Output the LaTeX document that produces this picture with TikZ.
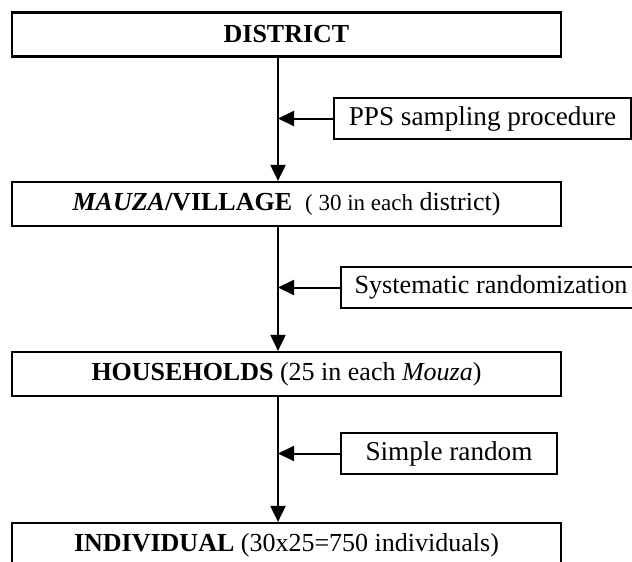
\documentclass[tikz,border=0pt]{standalone}
\usepackage{fontspec}
\setmainfont{Liberation Serif}
\usetikzlibrary{arrows.meta}

\begin{document}
\begin{tikzpicture}[x=0.5pt, y=-0.5pt,
        level/.style={draw, line width=1.1pt, minimum width=274.5pt, minimum height=22pt, inner sep=0pt, font=\fontsize{13}{15}\selectfont},
        method/.style={draw, line width=1pt, minimum height=20.5pt, inner sep=0pt, font=\fontsize{13.6}{16}\selectfont},
        flow/.style={line width=1pt, -{Triangle[length=8pt, width=7.5pt]}}]
        \useasboundingbox (0,0) rectangle (632,562);

        % Draw the sampling levels
        \node[level] (district) at (286.5,34.5) {\textbf{DISTRICT}};
        \node[level] (mauza) at (286.5,204) {\textbf{\textit{MAUZA}/VILLAGE}\ \ {\fontsize{11.5}{14}\selectfont( 30 in each} district)};
        \node[level] (households) at (286.5,374) {\textbf{HOUSEHOLDS} (25 in each \textit{Mouza})};
        \node[level] (individual) at (286.5,545) {\textbf{INDIVIDUAL} (30x25=750 individuals)};

        % Line the arrows run down
        \coordinate (spine) at (278,0);

        % Boxes with the sampling methods
        \node[method, minimum width=148.5pt] (pps) at (482.5,118.5) {PPS sampling procedure};
        \node[method, minimum width=150pt, font=\fontsize{13.1}{16}\selectfont] (sys) at (491,287.5) {Systematic randomization};
        \node[method, minimum width=108pt] (simple) at (449,453.5) {Simple random};

        % Draw the arrows down the spine
        \foreach \a/\b in {district/mauza, mauza/households, households/individual}
            \draw[flow] (\a.south -| spine) -- (\b.north -| spine);

        % Arrows from the methods into the spine
        \foreach \m in {pps, sys, simple}
            \draw[flow] (\m.west) -- (\m.west -| spine);
    \end{tikzpicture}
\end{document}
